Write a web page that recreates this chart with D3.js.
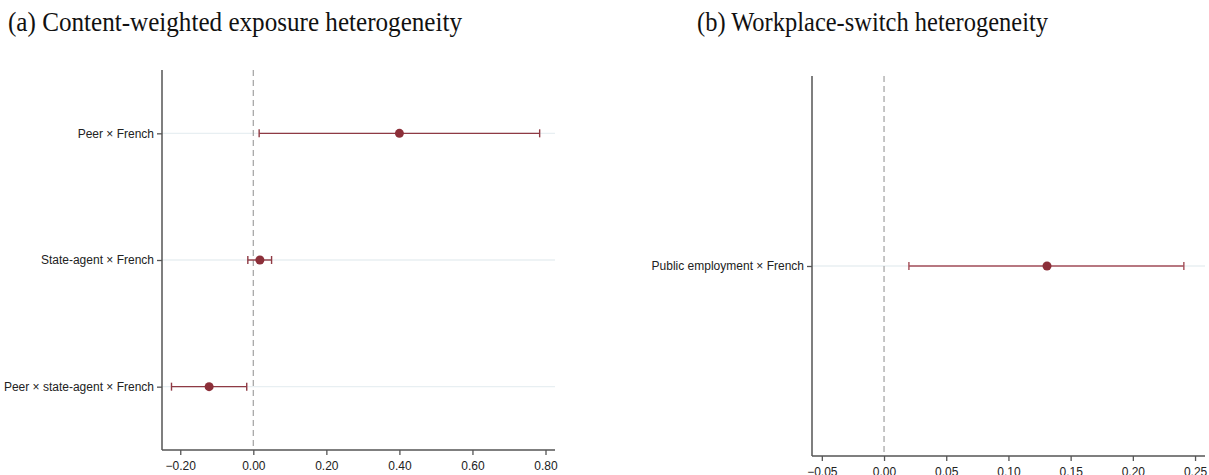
<!DOCTYPE html>
<html lang="en">
<head>
<meta charset="UTF-8">
<title>Heterogeneity coefficients</title>
<script src="https://cdn.jsdelivr.net/npm/d3@7"></script>
<style>
  body { margin: 0; background: #fff; }
  text { font-family: "Liberation Sans", Arial, sans-serif; }
</style>
</head>
<body>
<svg width="1209" height="475"></svg>
<script>
// panel (a)
var termsA = ['Peer × French', 'State-agent × French', 'Peer × state-agent × French'];
var coefA = [0.400, 0.018, -0.121];
var loA = [0.016, -0.015, -0.224];
var hiA = [0.784, 0.050, -0.018];
var ticksA = [-0.20, 0.00, 0.20, 0.40, 0.60, 0.80];

// panel (b)
var termsB = ['Public employment × French'];
var coefB = [0.131];
var loB = [0.020];
var hiB = [0.241];
var ticksB = [-0.05, 0.00, 0.05, 0.10, 0.15, 0.20, 0.25];

var svg = d3.select('svg');
var dotCol = '#8c2f39';

function panel(cfg) {
    var g = svg.append('g');
    var x = d3.scaleLinear().domain(cfg.xdom).range([cfg.left, cfg.right]);
    var y = d3.scalePoint().domain(cfg.terms).range([cfg.top, cfg.bottom]).padding(0.5);

    // light horizontal guide per term
    g.selectAll('.guide').data(cfg.terms).enter().append('line')
        .attr('x1', cfg.left).attr('x2', cfg.right)
        .attr('y1', function (d) { return y(d); })
        .attr('y2', function (d) { return y(d); })
        .attr('stroke', '#e8eff2').attr('stroke-width', 1.3);

    // zero reference
    g.append('line')
        .attr('x1', x(0)).attr('x2', x(0))
        .attr('y1', cfg.top).attr('y2', cfg.bottom)
        .attr('stroke', '#a8a8a8').attr('stroke-width', 1.3)
        .attr('stroke-dasharray', '6,4');

    var axX = d3.axisBottom(x).tickValues(cfg.ticks).tickFormat(d3.format('.2f')).tickSize(5).tickSizeOuter(0);
    var gx = g.append('g').attr('transform', 'translate(0,' + cfg.bottom + ')').call(axX);
    var axY = d3.axisLeft(y).tickSize(5).tickSizeOuter(0);
    var gy = g.append('g').attr('transform', 'translate(' + cfg.left + ',0)').call(axY);
    [gx, gy].forEach(function (a) {
        a.select('.domain').attr('stroke', '#555').attr('stroke-width', 1.5);
        a.selectAll('.tick line').attr('stroke', '#555').attr('stroke-width', 1.3);
        a.selectAll('.tick text').attr('fill', '#222').attr('font-size', 12)
            .attr('font-family', '"Liberation Sans", Arial, sans-serif');
    });
    gx.select('.domain').attr('d', 'M' + cfg.left + ',0H' + cfg.right);
    gy.select('.domain').attr('d', 'M0,' + cfg.top + 'V' + cfg.bottom);
    gx.selectAll('.tick text').attr('dy', '1.0em');
    gy.selectAll('.tick text').attr('x', -8);

    var rows = cfg.terms.map(function (t, i) {
        return { t: t, c: cfg.coef[i], lo: cfg.lo[i], hi: cfg.hi[i] };
    });
    var gs = g.selectAll('.ci').data(rows).enter().append('g');
    gs.append('line')
        .attr('x1', function (d) { return x(d.lo); })
        .attr('x2', function (d) { return x(d.hi); })
        .attr('y1', function (d) { return y(d.t); })
        .attr('y2', function (d) { return y(d.t); })
        .attr('stroke', cfg.ciCol).attr('stroke-width', 1.4);
    ['lo', 'hi'].forEach(function (k) {
        gs.append('line')
            .attr('x1', function (d) { return x(d[k]); })
            .attr('x2', function (d) { return x(d[k]); })
            .attr('y1', function (d) { return y(d.t) - 4; })
            .attr('y2', function (d) { return y(d.t) + 4; })
            .attr('stroke', cfg.ciCol).attr('stroke-width', 1.4);
    });
    gs.append('circle')
        .attr('cx', function (d) { return x(d.c); })
        .attr('cy', function (d) { return y(d.t); })
        .attr('r', 4.5).attr('fill', dotCol);

    svg.append('text')
        .attr('x', cfg.titleX).attr('y', 31)
        .attr('textLength', cfg.titleW).attr('lengthAdjust', 'spacingAndGlyphs')
        .style('font-family', '"Liberation Serif", "DejaVu Serif", serif')
        .style('font-size', '27px').attr('fill', '#111')
        .text(cfg.title);
}

panel({
    title: '(a) Content-weighted exposure heterogeneity', titleX: 8, titleW: 454,
    terms: termsA, coef: coefA, lo: loA, hi: hiA, ticks: ticksA,
    xdom: [-0.25, 0.826], left: 162, right: 555, top: 70, bottom: 450, ciCol: '#8f3a44'
});
panel({
    title: '(b) Workplace-switch heterogeneity', titleX: 697, titleW: 351,
    terms: termsB, coef: coefB, lo: loB, hi: hiB, ticks: ticksB,
    xdom: [-0.0579, 0.258], left: 812, right: 1205, top: 76, bottom: 456, ciCol: '#a44e58'
});
</script>
</body>
</html>
